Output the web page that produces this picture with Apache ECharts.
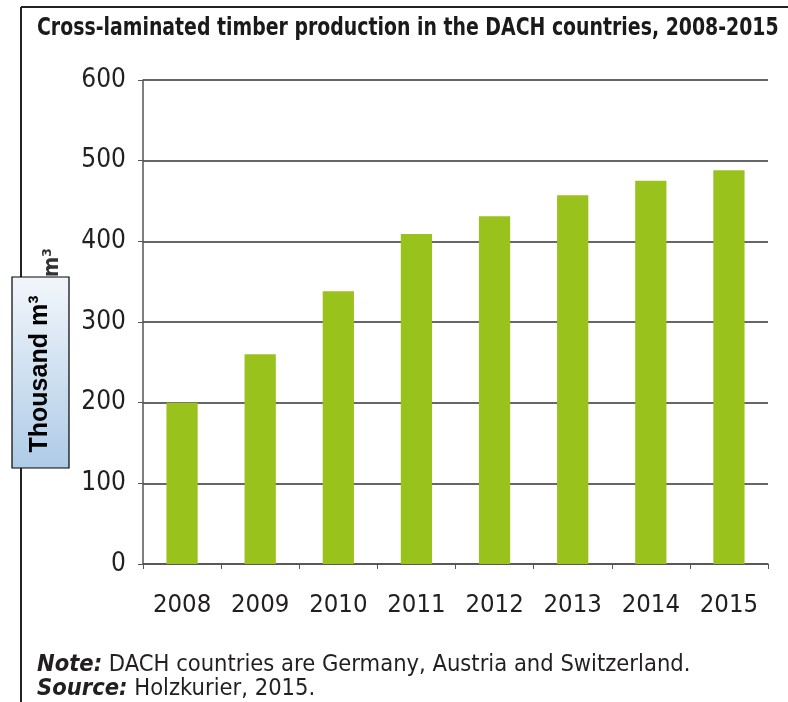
<!DOCTYPE html>
<html><head><meta charset="utf-8">
<script src="https://cdn.jsdelivr.net/npm/echarts@6/dist/echarts.min.js"></script>
<style>html,body{margin:0;padding:0;background:#fff}#c{width:788px;height:702px}</style>
</head><body><div id="c"></div>
<script>
const categories = ['2008','2009','2010','2011','2012','2013','2014','2015'];
const production = [200, 260, 338, 409, 431, 457, 475, 488];
const yTicks = [0, 100, 200, 300, 400, 500, 600];
const titleText = 'Cross-laminated timber production in the DACH countries, 2008-2015';
const axisLabel = 'Thousand m³';
const noteText = 'DACH countries are Germany, Austria and Switzerland.';
const sourceText = 'Holzkurier, 2015.';

const chart = echarts.init(document.getElementById('c'));
const narrow = '"DejaVu Sans Condensed", "Liberation Sans Narrow", sans-serif';
const txt = '#231f20';
chart.setOption({
  animation: false,
  grid: {left: 143, top: 80, right: 20, bottom: 138},
  xAxis: {
    type: 'category', data: categories,
    axisLine: {lineStyle: {color: '#555', width: 1.5}},
    axisTick: {show: true, length: 5, lineStyle: {color: '#555'}},
    axisLabel: {color: txt, fontSize: 25.5, fontFamily: narrow, margin: 28, interval: 0}
  },
  yAxis: {
    type: 'value', min: yTicks[0], max: yTicks[yTicks.length-1], interval: 100,
    axisLine: {show: true, lineStyle: {color: '#555', width: 1.5}},
    axisTick: {show: true, length: 5, lineStyle: {color: '#555'}},
    axisLabel: {color: txt, fontSize: 26, fontFamily: narrow, margin: 17},
    splitLine: {lineStyle: {color: '#666', width: 2}}
  },
  series: [{
    type: 'bar', data: production, barWidth: '40%',
    itemStyle: {color: '#99c21d'}
  }],
  graphic: [
    {type: 'line', shape: {x1: 21, y1: 7, x2: 788, y2: 7}, style: {stroke: '#222', lineWidth: 2}},
    {type: 'line', shape: {x1: 21, y1: 7, x2: 21, y2: 702}, style: {stroke: '#222', lineWidth: 2}},
    {type: 'text', x: 37, y: 29, scaleX: 0.875, style: {text: titleText, fill: '#1a1a1a', font: 'bold 24px ' + narrow, textVerticalAlign: 'middle'}},
    {type: 'text', x: 52, y: 248, rotation: Math.PI/2, style: {text: axisLabel, fill: '#333', font: 'bold 22px ' + narrow, textAlign: 'right', textVerticalAlign: 'middle'}},
    {type: 'rect', shape: {x: 12, y: 277, width: 57, height: 191},
      style: {stroke: '#000', lineWidth: 1.2,
        fill: new echarts.graphic.LinearGradient(0, 0, 0, 1, [{offset: 0, color: '#f2f6fb'}, {offset: 1, color: '#aecbe7'}])}},
    {type: 'text', x: 40, y: 374, rotation: Math.PI/2, style: {text: axisLabel, fill: '#000', font: 'bold 25px "Liberation Sans", Arial, sans-serif', textAlign: 'center', textVerticalAlign: 'middle'}},
    {type: 'text', x: 37, y: 665, style: {
      text: '{b|Note:} ' + noteText, fill: txt, font: '23.5px ' + narrow, textVerticalAlign: 'middle',
      rich: {b: {fontWeight: 'bold', fontStyle: 'italic', fontSize: 23.5, fontFamily: narrow, fill: txt}}}},
    {type: 'text', x: 37, y: 689, style: {
      text: '{b|Source:} ' + sourceText, fill: txt, font: '23.5px ' + narrow, textVerticalAlign: 'middle',
      rich: {b: {fontWeight: 'bold', fontStyle: 'italic', fontSize: 23.5, fontFamily: narrow, fill: txt}}}}
  ]
});
</script></body></html>
